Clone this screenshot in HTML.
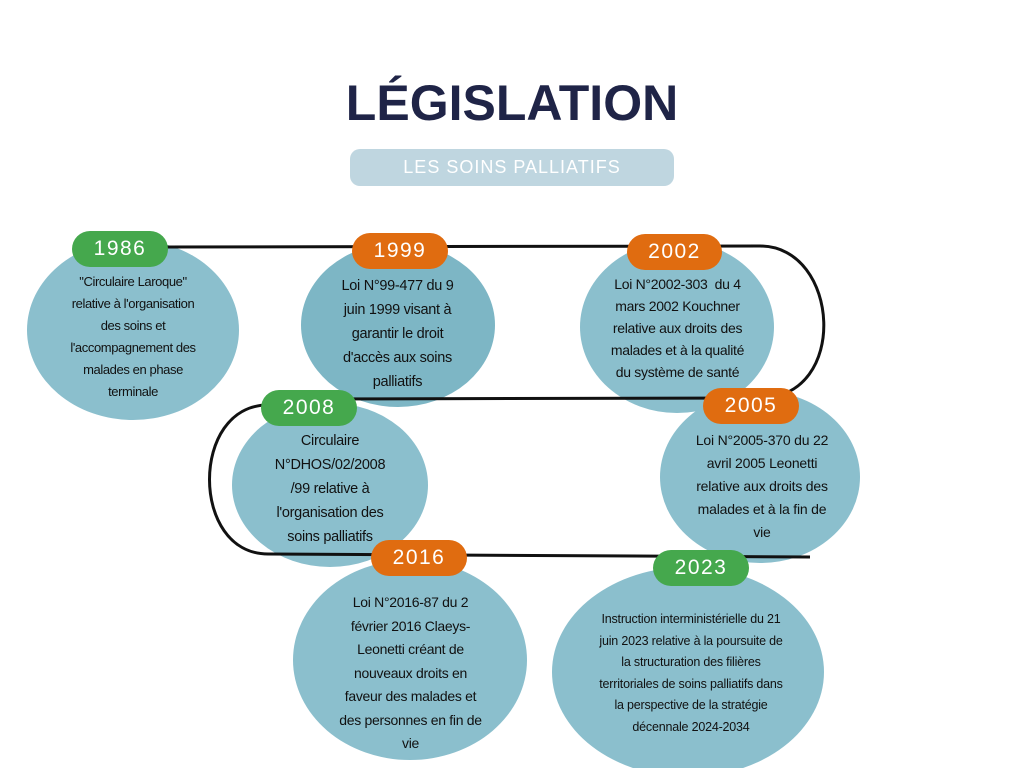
<!DOCTYPE html>
<html><head><meta charset="utf-8"><style>
body{margin:0;width:1024px;height:768px;background:#fff;position:relative;overflow:hidden;font-family:"Liberation Sans",sans-serif}
.t{position:absolute;text-align:center;color:#111;font-size:13px;line-height:22px;white-space:nowrap}
.b{position:absolute;color:#fff;font-size:21px;text-align:center;line-height:36px;letter-spacing:1.5px;border-radius:18px}
.g{background:#45a84d}.o{background:#e06c10}
</style></head><body>
<div style="position:absolute;left:0;width:1024px;top:74px;text-align:center;font-size:50px;font-weight:bold;color:#1f2447;letter-spacing:0px">LÉGISLATION</div>
<div style="position:absolute;left:350px;top:149px;width:324px;height:37px;background:#bfd6e0;border-radius:10px;color:#fff;text-align:center;line-height:37px;font-size:18px;letter-spacing:1px">LES SOINS PALLIATIFS</div>
<svg width="1024" height="768" style="position:absolute;left:0;top:0">
<g fill="#8bbfcd">
<ellipse cx="133" cy="330" rx="106" ry="90"/>
<ellipse cx="398" cy="325" rx="97" ry="82" fill="#7db6c5"/>
<ellipse cx="677" cy="327" rx="97" ry="86"/>
<ellipse cx="330" cy="485" rx="98" ry="82"/>
<ellipse cx="760" cy="477" rx="100" ry="86"/>
<ellipse cx="410" cy="660" rx="117" ry="100"/>
<ellipse cx="688" cy="672" rx="136" ry="105"/>
</g>
<g fill="none" stroke="#111" stroke-width="3">
<path d="M165 247 L760 246 C840 246 850 398 760 398 L300 399"/>
<path d="M268 405 C190 405 190 554 268 554 L810 557"/>
</g>
</svg>
<div class="b g" style="left:72px;top:231px;width:96px">1986</div>
<div class="b o" style="left:352px;top:233px;width:96px">1999</div>
<div class="b o" style="left:627px;top:234px;width:95px">2002</div>
<div class="b g" style="left:261px;top:390px;width:96px">2008</div>
<div class="b o" style="left:703px;top:388px;width:96px">2005</div>
<div class="b o" style="left:371px;top:540px;width:96px">2016</div>
<div class="b g" style="left:653px;top:550px;width:96px">2023</div>
<div class="t" style="left:33px;top:271px;width:200px;letter-spacing:-0.4px">"Circulaire Laroque"<br>relative à l'organisation<br>des soins et<br>l'accompagnement des<br>malades en phase<br>terminale</div>
<div class="t" style="left:310px;top:274px;width:175px;font-size:14.5px;line-height:24px;letter-spacing:-0.3px">Loi N°99-477 du 9<br>juin 1999 visant à<br>garantir le droit<br>d'accès aux soins<br>palliatifs</div>
<div class="t" style="left:590px;top:273px;width:175px;font-size:14px;line-height:22px;letter-spacing:-0.3px">Loi N°2002-303 &nbsp;du 4<br>mars 2002 Kouchner<br>relative aux droits des<br>malades et à la qualité<br>du système de santé</div>
<div class="t" style="left:245px;top:429px;width:170px;font-size:14.5px;line-height:24px;letter-spacing:-0.3px">Circulaire<br>N°DHOS/02/2008<br>/99 relative à<br>l'organisation des<br>soins palliatifs</div>
<div class="t" style="left:672px;top:429px;width:180px;font-size:14px;line-height:23px;letter-spacing:-0.2px">Loi N°2005-370 du 22<br>avril 2005 Leonetti<br>relative aux droits des<br>malades et à la fin de<br>vie</div>
<div class="t" style="left:318px;top:591px;width:185px;font-size:14px;line-height:23.5px;letter-spacing:-0.3px">Loi N°2016-87 du 2<br>février 2016 Claeys-<br>Leonetti créant de<br>nouveaux droits en<br>faveur des malades et<br>des personnes en fin de<br>vie</div>
<div class="t" style="left:566px;top:609px;width:250px;font-size:12.5px;line-height:21.5px;letter-spacing:-0.2px">Instruction interministérielle du 21<br>juin 2023 relative à la poursuite de<br>la structuration des filières<br>territoriales de soins palliatifs dans<br>la perspective de la stratégie<br>décennale 2024-2034</div>
</body></html>
